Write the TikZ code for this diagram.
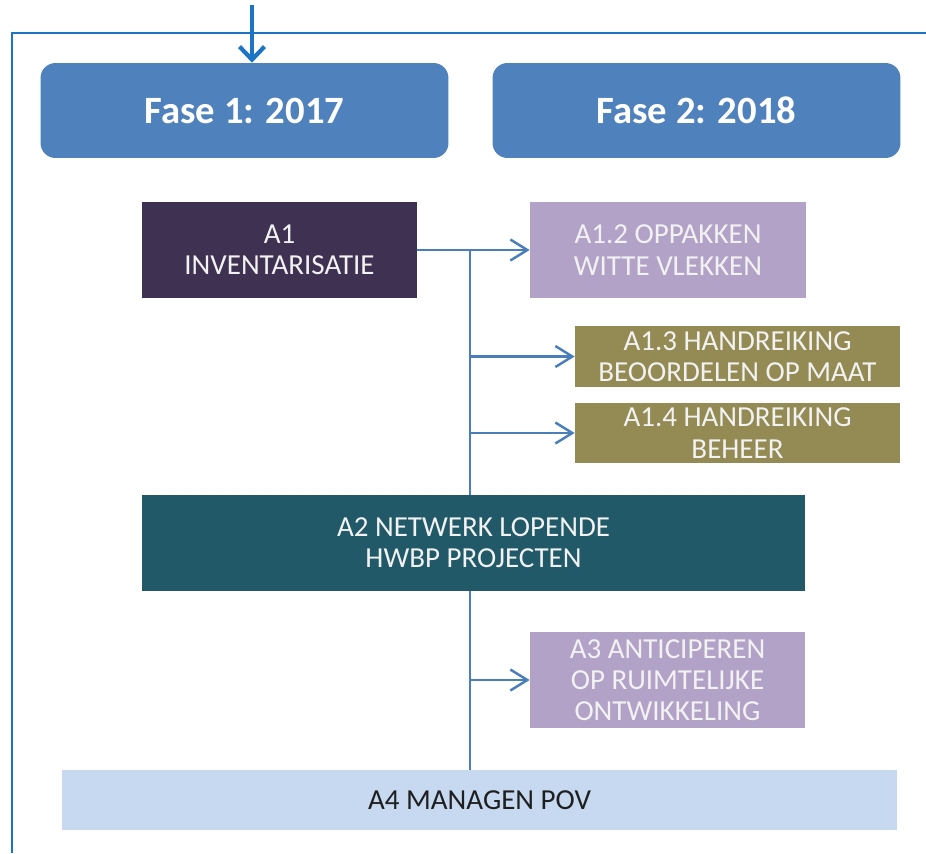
\documentclass[tikz,border=0pt]{standalone}
\usepackage{fontspec}
\setmainfont{Carlito}
\usepackage{xcolor}
\usepackage{tikz}
\usetikzlibrary{arrows.meta}

\definecolor{frameblue}{HTML}{1C74C4}
\definecolor{faseblue}{HTML}{4F81BD}
\definecolor{linkblue}{HTML}{4A7EBB}
\definecolor{darkpurple}{HTML}{3F3151}
\definecolor{lightpurple}{HTML}{B3A2C7}
\definecolor{olive}{HTML}{948A54}
\definecolor{darkteal}{HTML}{215968}
\definecolor{paleblue}{HTML}{C6D9F1}

\tikzset{
	fase/.style={rounded corners=0.3cm, fill=faseblue, text=white,
		minimum width=8.16cm, minimum height=1.9cm,
		font=\fontsize{22}{26}\selectfont\bfseries},
	actbox/.style={fill=#1, text=white!95!black, align=center, inner sep=0pt,
		font=\fontsize{16.5}{17.8}\selectfont},
	link/.style={draw=linkblue, line width=1.4pt},
	linkarrow/.style={link, -{Straight Barb[length=3.4mm,width=4.2mm]}},
}

\begin{document}
\begin{tikzpicture}[x=0.02cm,y=-0.02cm]
		\useasboundingbox (0,0) rectangle (926,853);
		\pgfmathsetmacro{\trunkX}{470}
		
		% frame and entry arrow
		\draw[frameblue, line width=1.6pt] (12,853) -- (12,33) -- (926,33);
		\coordinate (entry) at (252,5);
		
		% phases
		\node[fase] (fase1) at (244.5,110.5) {Fase 1: 2017};
		\node[fase] (fase2) at (696.5,110.5) {Fase 2: 2018};
		\draw[frameblue, line width=2.4pt, -{Straight Barb[length=2.6mm,width=5mm]}] (entry) -- (entry |- fase1.north);
		
		% activities
		\node[actbox=darkpurple, minimum width=5.5cm, minimum height=1.92cm] (a1) at (279.5,250) {A1\\INVENTARISATIE};
		\node[actbox=lightpurple, minimum width=5.52cm, minimum height=1.92cm] (a12) at (668,250) {A1.2 OPPAKKEN\\WITTE VLEKKEN};
		\node[actbox=olive, minimum width=6.5cm, minimum height=1.22cm] (a13) at (737.5,356.5) {A1.3 HANDREIKING\\BEOORDELEN OP MAAT};
		\node[actbox=olive, minimum width=6.5cm, minimum height=1.2cm] (a14) at (737.5,433) {A1.4 HANDREIKING\\BEHEER};
		\node[actbox=darkteal, minimum width=13.26cm, minimum height=1.92cm] (a2) at (473.5,543) {A2 NETWERK LOPENDE\\HWBP PROJECTEN};
		\node[actbox=lightpurple, minimum width=5.5cm, minimum height=1.92cm] (a3) at (667.5,680) {A3 ANTICIPEREN\\OP RUIMTELIJKE\\ONTWIKKELING};
		\node[actbox=paleblue, text=black!88, minimum width=16.7cm, minimum height=1.2cm] (a4) at (479.5,800) {A4 MANAGEN POV};
		
		% connectors
		\coordinate (trunk) at (\trunkX,250);
		\draw[linkarrow] (a1.east) -- (a12.west);
		\draw[link] (trunk) -- (trunk |- a2.north);
		\draw[link] (trunk |- a2.south) -- (trunk |- a4.north);
		\foreach \t in {a13,a14,a3} {
			\draw[linkarrow] (trunk |- \t.west) -- (\t.west);
		}
	\end{tikzpicture}
\end{document}
